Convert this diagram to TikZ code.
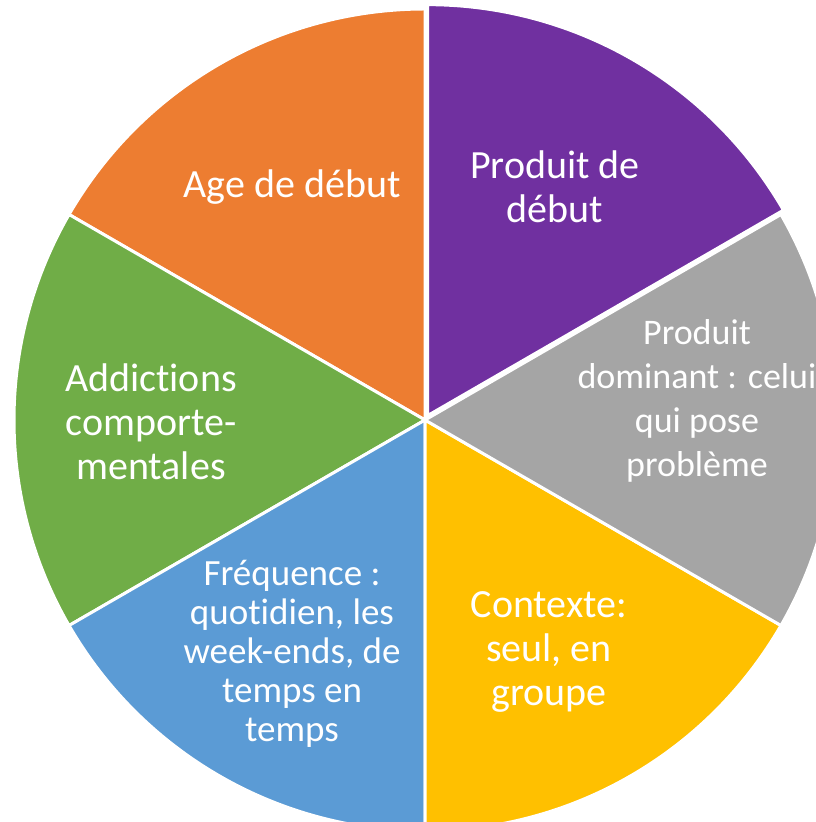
\documentclass[tikz,border=0pt]{standalone}
\usepackage{fontspec}
\setmainfont[Ligatures=NoCommon]{Carlito}
\usetikzlibrary{calc}
\definecolor{cOrange}{HTML}{ED7D31}
\definecolor{cPurple}{HTML}{7030A0}
\definecolor{cGray}{HTML}{A5A5A5}
\definecolor{cYellow}{HTML}{FFC000}
\definecolor{cBlue}{HTML}{5B9BD5}
\definecolor{cGreen}{HTML}{70AD47}
\tikzset{
  sector/.style={draw=white, line width=3pt, line join=round},
  lbl/.style={text=white, align=center, font=\fontsize{40}{44}\selectfont, inner sep=0pt},
  lblmid/.style={text=white, align=center, font=\fontsize{36}{44}\selectfont, inner sep=0pt},
  lblsmall/.style={text=white, align=center, font=\fontsize{37}{39}\selectfont, inner sep=0pt}
}
\begin{document}
\begin{tikzpicture}[x=1pt,y=1pt]
\useasboundingbox (0,0) rectangle (816,822);
\clip (0,0) rectangle (816,822);
\coordinate (C) at (425,402);
\def\R{411}
\fill[white] (0,0) rectangle (816,822);
\filldraw[sector, fill=cOrange] (C) -- ++(90:\R) arc[start angle=90, end angle=150, radius=\R] -- cycle;
\filldraw[sector, fill=cGreen] (C) -- ++(150:\R) arc[start angle=150, end angle=210, radius=\R] -- cycle;
\filldraw[sector, fill=cBlue] (C) -- ++(210:\R) arc[start angle=210, end angle=270, radius=\R] -- cycle;
\filldraw[sector, fill=cYellow] (C) -- ++(270:\R) arc[start angle=270, end angle=330, radius=\R] -- cycle;
\filldraw[sector, fill=cGray] (C) -- ++(-30:\R) arc[start angle=-30, end angle=30, radius=\R] -- cycle;
\coordinate (CP) at ($(C)+(60:5)$);
\filldraw[sector, fill=cPurple] (CP) -- ++(30:\R) arc[start angle=30, end angle=90, radius=\R] -- cycle;
\node[lbl] (age) at (292,635) {Age de début};
\node[lbl] (prod) at (555,635) {Produit de\\début};
\node[lblmid] (dom) at (697,421) {Produit\\dominant : celui\\qui pose\\problème};
\node[lbl] (addi) at (151,400) {Addictions\\comporte-\\mentales};
\node[lblsmall] (freq) at (292,168) {Fréquence :\\quotidien, les\\week-ends, de\\temps en\\temps};
\node[lbl] (ctx) at (549,170) {Contexte:\\seul, en\\groupe};
\end{tikzpicture}
\end{document}
